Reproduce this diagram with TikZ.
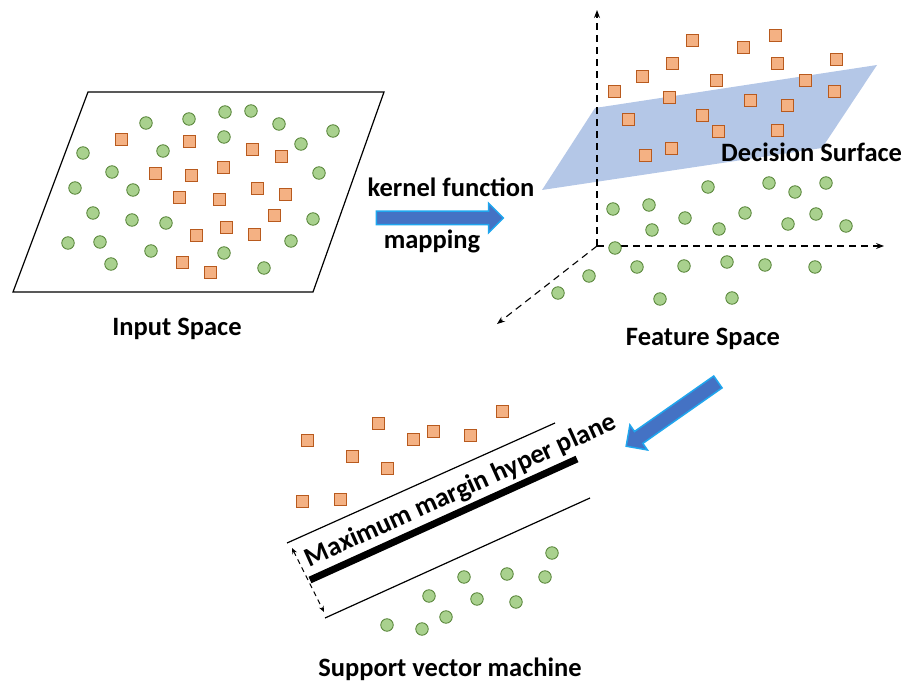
\documentclass[tikz,border=0pt]{standalone}
\usepackage{fontspec}
\setmainfont{Carlito}
\usetikzlibrary{shapes.arrows,arrows.meta}

\definecolor{dotgreen}{HTML}{A9D18E}
\definecolor{dotedge}{HTML}{548235}
\definecolor{boxorange}{HTML}{F4B183}
\definecolor{boxedge}{HTML}{B85A1E}
\definecolor{planeblue}{HTML}{B4C7E7}
\definecolor{arrowfill}{HTML}{4472C4}
\definecolor{arrowedge}{HTML}{1FA6EE}

\begin{document}
\begin{tikzpicture}[x=1pt,y=-1pt]
\tikzstyle{dot}=[circle, draw=dotedge, fill=dotgreen, line width=0.8pt, minimum size=12.5pt, inner sep=0pt]
\tikzstyle{box}=[rectangle, draw=boxedge, fill=boxorange, line width=0.8pt, minimum size=12pt, inner sep=0pt]
\tikzstyle{heading}=[font=\bfseries\fontsize{26.5}{30}\selectfont, inner sep=0pt]
\tikzstyle{axisline}=[dash pattern=on 7pt off 5pt, line width=1.1pt, -{Stealth[length=8pt,width=6pt]}]
\tikzstyle{bluearrow}=[single arrow, fill=arrowfill, draw=arrowedge, line width=1.5pt, inner xsep=0pt, inner ysep=6pt, single arrow head extend=8pt, single arrow tip angle=90]
\useasboundingbox (0,0) rectangle (916,684);

% input space
\draw[line width=1.2pt] (88,92) -- (384,92) -- (313,292) -- (13,292) -- cycle;
\foreach \x/\y [count=\i] in {146/123, 189/119, 225/112, 251/111, 279/124, 333/131, 224/137, 301/144, 83/153, 163/151, 112/172, 319/173, 75/188, 133/190, 93/213, 132/220, 166/223, 313/219, 68/243, 100/242, 151/251, 224/253, 291/241, 111/264, 264/268}
  \node[dot] (in-c\i) at (\x,\y) {};
\foreach \x/\y [count=\i] in {121/139, 189/141, 252/149, 281/156, 155/173, 191/175, 223/167, 257/188, 285/194, 179/197, 219/199, 274/215, 226/227, 196/235, 254/234, 182/262, 210/272}
  \node[box] (in-s\i) at (\x,\y) {};
\node[heading] (insp) at (177,329) {Input Space};

% mapping
\node[heading] (kern) at (451,187) {kernel function};
\node[bluearrow, minimum height=127pt] (map) at (436.5,218) {};
\node[heading] (mapl) at (432,241) {mapping};

% feature space
\fill[planeblue] (542,190) -- (595,108) -- (877,65) -- (822,148) -- cycle;
\coordinate (O) at (597,246);
\coordinate (ztop) at (597,10);
\coordinate (xend) at (884,246);
\coordinate (yend) at (497,324);
\draw[axisline] (O) -- (ztop);
\draw[axisline] (O) -- (xend);
\draw[axisline] (O) -- (yend);
\foreach \x/\y [count=\i] in {692/40, 743/47, 775/35, 672/63, 777/63, 836/59, 642/76, 716/80, 805/80, 614/91, 669/97, 750/100, 834/91, 787/105, 628/119, 702/115, 718/131, 777/130, 671/148, 645/155}
  \node[box] (fs-s\i) at (\x,\y) {};
\foreach \x/\y [count=\i] in {708/187, 769/183, 795/192, 826/183, 613/209, 649/205, 685/218, 652/230, 745/213, 719/229, 816/214, 788/224, 846/226, 615/248, 637/267, 684/266, 727/262, 765/265, 815/267, 589/276, 558/293, 660/299, 732/298}
  \node[dot] (fs-c\i) at (\x,\y) {};
\node[heading, anchor=west] (dsurf) at (721,152) {Decision Surface};
\node[heading] (fsp) at (703,339) {Feature Space};

\node[bluearrow, minimum height=112pt, inner ysep=6.5pt, rotate=215] (todown) at (675,412) {};

% support vector machine
\foreach \x/\y [count=\i] in {502/411, 378/423, 433/431, 413/439, 470/435, 307/440, 352/456, 387/468, 302/501, 340/499}
  \node[box] (sv-s\i) at (\x,\y) {};
\foreach \x/\y [count=\i] in {552/553, 507/574, 464/577, 545/577, 429/596, 477/599, 516/602, 446/617, 387/625, 422/629}
  \node[dot] (sv-c\i) at (\x,\y) {};
\coordinate (u1) at (287,543);
\coordinate (u2) at (555,423);
\coordinate (h1) at (310,580);
\coordinate (h2) at (577,459);
\coordinate (l1) at (325,618);
\coordinate (l2) at (590,498);
\coordinate (m1) at (292,548);
\coordinate (m2) at (324,612);
\draw[line width=1.2pt] (u1) -- (u2);
\draw[line width=7pt] (h1) -- (h2);
\draw[line width=1.2pt] (l1) -- (l2);
\draw[dash pattern=on 5pt off 4pt, line width=1pt, {Stealth[length=6pt,width=5pt]}-{Stealth[length=6pt,width=5pt]}] (m1) -- (m2);
\node[heading, font=\bfseries\fontsize{27}{30}\selectfont, rotate=24.3] (mmhp) at (461,491) {Maximum margin hyper plane};
\node[heading] (svm) at (450,669) {Support vector machine};
\end{tikzpicture}
\end{document}
